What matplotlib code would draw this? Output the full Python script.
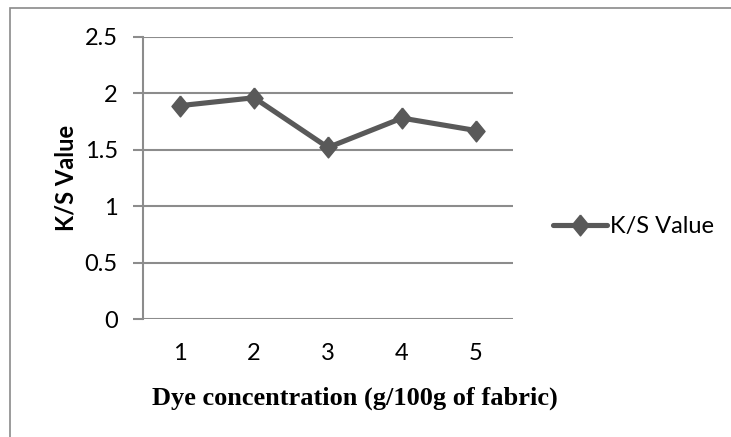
import matplotlib
matplotlib.use("Agg")
import matplotlib.pyplot as plt
from matplotlib.patches import Rectangle

# data
concentration = [1, 2, 3, 4, 5]
ks_value = [1.89, 1.96, 1.52, 1.78, 1.67]
y_ticks = [0, 0.5, 1, 1.5, 2, 2.5]
y_tick_labels = ["0", "0.5", "1", "1.5", "2", "2.5"]

line_col = "#595959"
grid_col = "#8c8c8c"
sans = ["Lato", "DejaVu Sans"]

# Excel-style diamond, a bit taller than wide
diamond = [(0, 1), (0.82, 0), (0, -1), (-0.82, 0), (0, 1)]

fig = plt.figure(figsize=(7.31, 4.37), dpi=100)
fig.patch.set_facecolor("white")

# thin frame of the chart area (cut off at right and bottom in the reference)
fig.patches.append(Rectangle((10 / 731, -0.1), 1.2, 1 - 8 / 437 + 0.1,
                             transform=fig.transFigure, fill=False,
                             edgecolor="#8a8a8a", linewidth=1.2))

ax = fig.add_axes([143 / 731, 1 - 319.3 / 437, 370 / 731, (319.3 - 36.7) / 437])
ax.plot(concentration, ks_value, color=line_col, linewidth=3.7,
        marker=diamond, markersize=15, label="K/S Value", solid_capstyle="round")

ax.set_xlim(0.5, 5.5)
ax.set_ylim(0, 2.5)
ax.set_yticks(y_ticks)
ax.set_yticklabels(y_tick_labels, family=sans, fontsize=17)
ax.set_xticks(concentration)
ax.set_xticklabels([str(c) for c in concentration], family=sans, fontsize=17)

for y in y_ticks:
    ax.axhline(y, color=grid_col, linewidth=1.5, zorder=0)

for s in ["top", "right", "bottom"]:
    ax.spines[s].set_visible(False)
ax.spines["left"].set_color(grid_col)
ax.spines["left"].set_linewidth(1.5)

ax.tick_params(axis="y", direction="out", length=7.2, width=1.5, color=grid_col, pad=11)
ax.tick_params(axis="x", length=0, pad=17)

ax.set_ylabel("K/S Value", family=sans, fontsize=17, fontweight="bold")
ax.yaxis.set_label_coords(-0.178, 0.5)
ax.set_xlabel("Dye concentration (g/100g of fabric)", family="Liberation Serif",
              fontsize=19, fontweight="bold", labelpad=16)
ax.xaxis.label.set_x(0.573)

ax.legend(loc="center left", bbox_to_anchor=(553 / 731, 1 - 227 / 437),
          bbox_transform=fig.transFigure, frameon=False, handlelength=2.3,
          handletextpad=0.12, borderpad=0, borderaxespad=0,
          prop={"family": sans, "size": 17})

fig.savefig("out.png", dpi=100)
